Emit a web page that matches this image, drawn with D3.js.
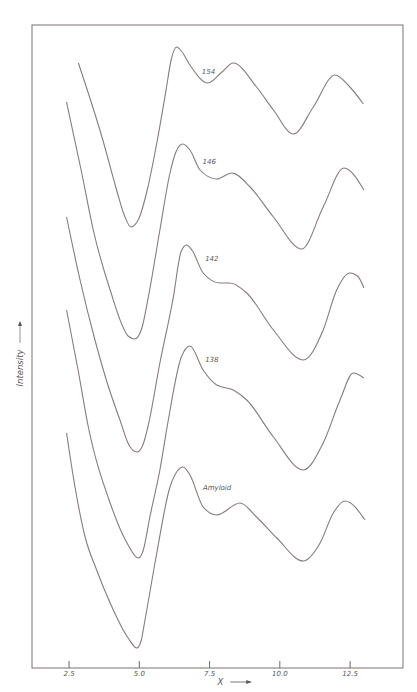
<!DOCTYPE html>
<meta charset="utf-8">
<style>
body {
  margin: 0;
  background: #fff;
}
.frame {
  fill: none;
  stroke: #7a7272;
  stroke-width: 1;
}
.trace {
  fill: none;
  stroke: #877b7b;
  stroke-width: 1.1;
}
.axis text, .tag {
  font: italic 7px "DejaVu Sans", sans-serif;
  fill: #555;
}
.axis line {
  stroke: #6e6868;
}
.title {
  font: italic 8.5px "DejaVu Sans", sans-serif;
  fill: #555;
}
</style>
<svg width="417" height="692"></svg>
<script src="https://cdn.jsdelivr.net/npm/d3@7"></script>
<script>

// scan traces, intensity in arbitrary units (curves are offset)
var names = ["154", "146", "142", "138", "Amyloid"];

var x154 = [2.85, 3.72, 4.21, 4.47, 4.72, 5.01, 5.30, 5.66, 5.97, 6.15, 6.35, 6.54, 6.82, 7.46, 7.96, 8.36, 9.19, 9.79, 10.50, 11.21, 11.98, 12.51, 12.99],
    i154 = [605, 528, 478, 454, 441, 450, 478, 528, 578, 608, 621, 616, 603, 585, 596, 605, 581, 558, 534, 561, 593, 581, 564];

var x146 = [2.43, 2.97, 3.38, 3.98, 4.62, 4.86, 5.11, 5.34, 5.75, 6.11, 6.32, 6.56, 6.82, 7.18, 7.77, 8.31, 8.96, 9.79, 10.80, 11.56, 12.30, 13.01],
    i146 = [566, 495, 438, 378, 332, 329, 340, 371, 438, 495, 516, 524, 518, 498, 489, 495, 481, 451, 419, 461, 500, 478];

var x142 = [2.43, 2.91, 3.44, 3.90, 4.33, 4.65, 4.93, 5.13, 5.33, 5.75, 6.23, 6.50, 6.70, 6.89, 7.29, 7.89, 8.24, 8.84, 9.79, 10.85, 11.56, 12.04, 12.51, 12.81, 13.01],
    i142 = [451, 388, 328, 283, 248, 223, 216, 222, 242, 305, 371, 416, 423, 418, 395, 385, 385, 375, 338, 308, 338, 378, 395, 391, 380];

var x138 = [2.43, 2.84, 3.19, 3.98, 4.62, 4.98, 5.15, 5.40, 5.75, 6.05, 6.50, 6.82, 7.29, 7.77, 8.36, 8.84, 9.79, 10.85, 11.56, 12.16, 12.63, 13.01],
    i138 = [358, 298, 243, 165, 123, 110, 117, 152, 198, 248, 310, 322, 298, 283, 278, 268, 231, 198, 225, 268, 295, 290];

var xAmy = [2.43, 2.73, 3.09, 3.50, 3.98, 4.62, 4.93, 5.08, 5.22, 5.64, 6.11, 6.58, 6.82, 7.29, 7.77, 8.60, 9.19, 9.91, 10.85, 11.45, 11.92, 12.34, 13.05],
    iAmy = [235, 181, 131, 98, 65, 30, 20, 27, 48, 115, 181, 201, 193, 161, 153, 165, 151, 130, 107, 125, 155, 167, 148];

// where each curve's name is written
var tagX = [7.24, 7.27, 7.36, 7.36, 7.28],
    tagI = [594, 504, 407, 306, 178];

var ticks = [2.5, 5, 7.5, 10, 12.5],
    tickLabels = ["2.5", "5.0", "7.5", "10.0", "12.5"];

var svg = d3.select("svg"),
    margin = {top: 25, right: 14, bottom: 24, left: 32},
    width = +svg.attr("width") - margin.left - margin.right,
    height = +svg.attr("height") - margin.top - margin.bottom;

var x = d3.scaleLinear().domain([1.2, 14.4]).range([0, width]),
    y = d3.scaleLinear().domain([0, 643]).range([height, 0]);

var g = svg.append("g")
    .attr("transform", "translate(" + margin.left + "," + margin.top + ")");

g.append("rect")
    .attr("class", "frame")
    .attr("width", width)
    .attr("height", height);

var series = [[x154, i154], [x146, i146], [x142, i142], [x138, i138], [xAmy, iAmy]].map(function(s) {
  return s[0].map(function(v, i) { return {x: v, y: s[1][i]}; });
});

var line = d3.line()
    .curve(d3.curveMonotoneX)
    .x(function(d) { return x(d.x); })
    .y(function(d) { return y(d.y); });

g.selectAll(".trace")
    .data(series)
  .enter().append("path")
    .attr("class", "trace")
    .attr("d", line);

g.selectAll(".tag")
    .data(names)
  .enter().append("text")
    .attr("class", "tag")
    .attr("x", function(d, i) { return x(tagX[i]); })
    .attr("y", function(d, i) { return y(tagI[i]); })
    .text(function(d) { return d; });

// ticks point inward from the bottom edge
var axis = g.append("g")
    .attr("class", "axis")
    .attr("transform", "translate(0," + height + ")")
    .call(d3.axisTop(x).tickValues(ticks).tickSize(7).tickFormat(function(d, i) { return tickLabels[i]; }));
axis.select(".domain").remove();
axis.selectAll("text")
    .attr("y", 8)
    .attr("dy", 0)
    .attr("text-anchor", "middle");

var xt = svg.append("g")
    .attr("transform", "translate(" + (margin.left + x(7.9)) + "," + (margin.top + height + 17) + ")");
xt.append("text")
    .attr("class", "title")
    .attr("text-anchor", "middle")
    .text("X");
xt.append("line")
    .attr("x1", 10).attr("x2", 31).attr("y1", -3).attr("y2", -3)
    .attr("stroke", "#555").attr("stroke-width", 0.8);
xt.append("path")
    .attr("d", "M31,-3 L26,-5 L26,-1 Z")
    .attr("fill", "#555");

var yt = svg.append("g")
    .attr("transform", "translate(20," + (margin.top + y(300)) + ") rotate(-90)");
yt.append("text")
    .attr("class", "title")
    .attr("text-anchor", "middle")
    .attr("dy", "0.35em")
    .text("Intensity");
yt.append("line")
    .attr("x1", 25).attr("x2", 46).attr("y1", 0).attr("y2", 0)
    .attr("stroke", "#666").attr("stroke-width", 0.7);
yt.append("path")
    .attr("d", "M47,0 L42,-2 L42,2 Z")
    .attr("fill", "#555");

</script>
